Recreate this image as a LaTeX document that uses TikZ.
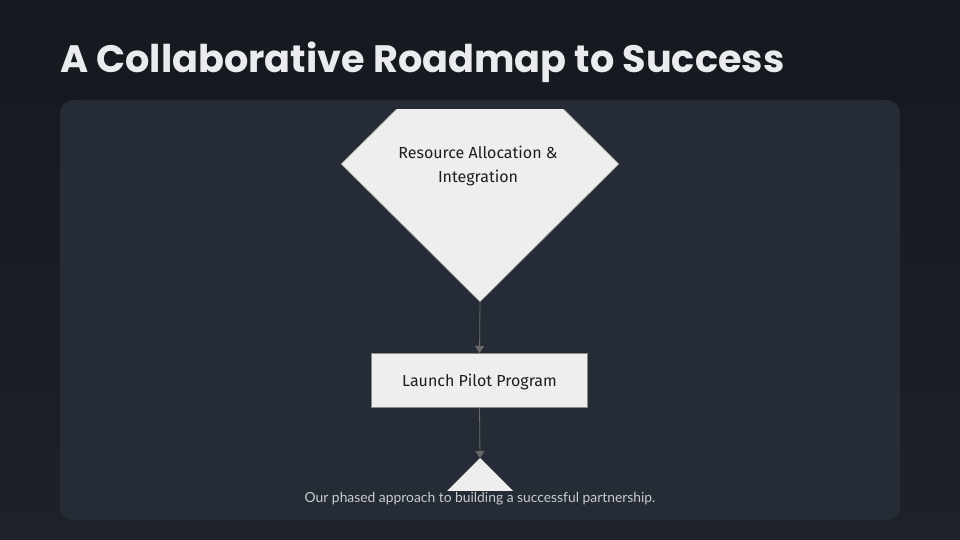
\documentclass[tikz,border=0pt]{standalone}
\usepackage{fontspec}
\usetikzlibrary{arrows.meta,shapes.geometric}
\setmainfont{Fira Sans}
\newfontfamily\titlefont{Poppins}
\newfontfamily\capfont{Lato}
\definecolor{bgtop}{HTML}{15181E}
\definecolor{bgbot}{HTML}{1D2129}
\definecolor{panel}{HTML}{262C36}
\definecolor{shapefill}{HTML}{EEEEEE}
\definecolor{shapeline}{HTML}{8A8A8A}
\definecolor{arrowgray}{HTML}{6A6A6A}
\definecolor{titlecol}{HTML}{E9EBEF}
\definecolor{capcol}{HTML}{C9CDD3}
\definecolor{nodetext}{HTML}{1E1E1E}
\tikzset{
  flowshape/.style={fill=shapefill, draw=shapeline, line width=0.6pt, text=nodetext, font=\fontsize{16}{24}\selectfont, align=center},
  flowarrow/.style={draw=arrowgray, line width=0.8pt, -{Triangle[length=7pt,width=9pt]}},
}
\begin{document}
\begin{tikzpicture}[x=1pt,y=-1pt]
\useasboundingbox (0,0) rectangle (960,540);
\shade[top color=bgtop, bottom color=bgbot] (0,0) rectangle (960,540);
\node[anchor=base west, inner sep=0, text=titlecol, font=\titlefont\bfseries\fontsize{38.2}{42}\selectfont] (title) at (60,72.7) {A Collaborative Roadmap to Success};
\fill[panel, rounded corners=14pt] (60,100) rectangle (900,520) coordinate (panelse);
\begin{scope}
\clip (0,110) rectangle (960,490);
\node[flowshape, shape=diamond, inner sep=0, minimum width=278pt, minimum height=276pt] (res) at (480,164) {};
\path[flowshape, draw=none] (480,458) -- (540,518) -- (420,518) -- cycle;
\end{scope}
\node[font=\fontsize{16}{24}\selectfont, text=nodetext, align=center] (restext) at (478,166) {Resource Allocation \&\\Integration};
\coordinate (tri) at (480,458);
\node[flowshape, minimum width=216pt, minimum height=54pt, inner sep=0,
  label={[yshift=-2pt, text=nodetext, font=\fontsize{16}{24}\selectfont]center:Launch Pilot Program}] (pilot) at (479.5,380.3) {};
\draw[flowarrow] (res.south) -- (pilot.north);
\draw[flowarrow] (pilot.south) -- (tri);
\node[anchor=base, inner sep=0, text=capcol, font=\capfont\fontsize{13.85}{16}\selectfont] (caption) at (480,502.5) {Our phased approach to building a successful partnership.};
\end{tikzpicture}
\end{document}
